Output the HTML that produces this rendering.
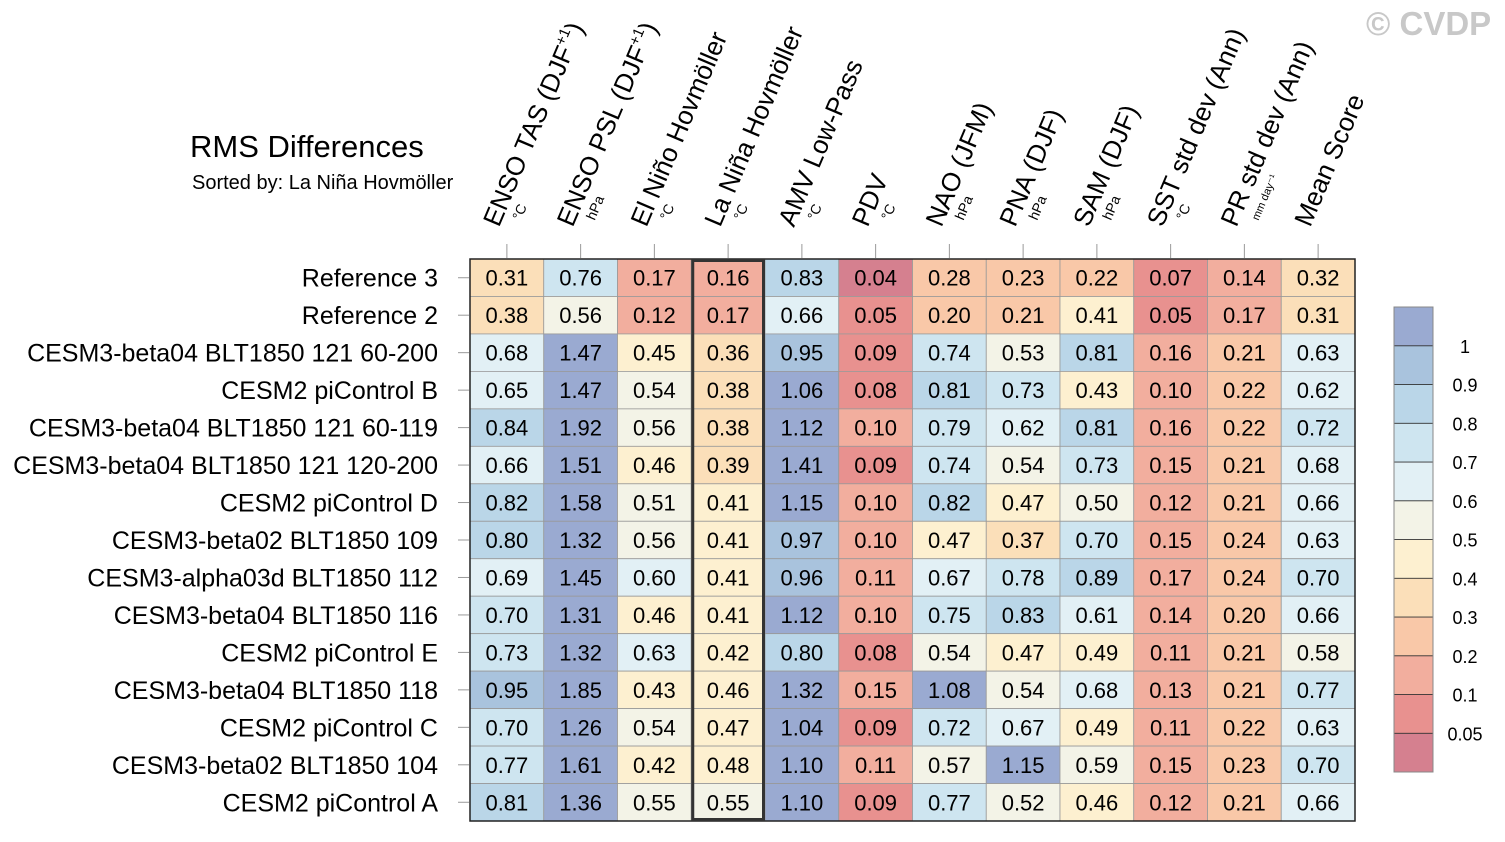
<!DOCTYPE html>
<html><head><meta charset="utf-8"><style>
body{margin:0;background:#fff;}
svg{display:block;font-family:"Liberation Sans",Arial,sans-serif;}
</style></head><body>
<svg id="chart" width="1505" height="842" xmlns="http://www.w3.org/2000/svg">
<text x="1366" y="35" font-size="33" font-weight="bold" fill="#c8c8c8">© CVDP</text>
<text x="190" y="157" font-size="31" fill="#000">RMS Differences</text>
<text x="192" y="189" font-size="20" fill="#000">Sorted by: La Niña Hovmöller</text>
</svg>
<script>
const columns=["ENSO TAS (DJF+1)","ENSO PSL (DJF+1)","El Niño Hovmöller","La Niña Hovmöller","AMV Low-Pass","PDV","NAO (JFM)","PNA (DJF)","SAM (DJF)","SST std dev (Ann)","PR std dev (Ann)","Mean Score"];
const units=["°C","hPa","°C","°C","°C","°C","hPa","hPa","hPa","°C","mm day⁻¹",""];
const rows=["Reference 3","Reference 2","CESM3-beta04 BLT1850 121 60-200","CESM2 piControl B","CESM3-beta04 BLT1850 121 60-119","CESM3-beta04 BLT1850 121 120-200","CESM2 piControl D","CESM3-beta02 BLT1850 109","CESM3-alpha03d BLT1850 112","CESM3-beta04 BLT1850 116","CESM2 piControl E","CESM3-beta04 BLT1850 118","CESM2 piControl C","CESM3-beta02 BLT1850 104","CESM2 piControl A"];
const values=[
[0.31,0.76,0.17,0.16,0.83,0.04,0.28,0.23,0.22,0.07,0.14,0.32],
[0.38,0.56,0.12,0.17,0.66,0.05,0.20,0.21,0.41,0.05,0.17,0.31],
[0.68,1.47,0.45,0.36,0.95,0.09,0.74,0.53,0.81,0.16,0.21,0.63],
[0.65,1.47,0.54,0.38,1.06,0.08,0.81,0.73,0.43,0.10,0.22,0.62],
[0.84,1.92,0.56,0.38,1.12,0.10,0.79,0.62,0.81,0.16,0.22,0.72],
[0.66,1.51,0.46,0.39,1.41,0.09,0.74,0.54,0.73,0.15,0.21,0.68],
[0.82,1.58,0.51,0.41,1.15,0.10,0.82,0.47,0.50,0.12,0.21,0.66],
[0.80,1.32,0.56,0.41,0.97,0.10,0.47,0.37,0.70,0.15,0.24,0.63],
[0.69,1.45,0.60,0.41,0.96,0.11,0.67,0.78,0.89,0.17,0.24,0.70],
[0.70,1.31,0.46,0.41,1.12,0.10,0.75,0.83,0.61,0.14,0.20,0.66],
[0.73,1.32,0.63,0.42,0.80,0.08,0.54,0.47,0.49,0.11,0.21,0.58],
[0.95,1.85,0.43,0.46,1.32,0.15,1.08,0.54,0.68,0.13,0.21,0.77],
[0.70,1.26,0.54,0.47,1.04,0.09,0.72,0.67,0.49,0.11,0.22,0.63],
[0.77,1.61,0.42,0.48,1.10,0.11,0.57,1.15,0.59,0.15,0.23,0.70],
[0.81,1.36,0.55,0.55,1.10,0.09,0.77,0.52,0.46,0.12,0.21,0.66]];
const levels=[0.05,0.1,0.2,0.3,0.4,0.5,0.6,0.7,0.8,0.9,1];
const levelLabels=["0.05","0.1","0.2","0.3","0.4","0.5","0.6","0.7","0.8","0.9","1"];
const colors=["#d5808f","#e8918f","#f2ae9e","#f9c8a8","#fbdfb9","#fdf0d0","#f3f3e7","#e2f0f5","#cee5f0","#bad6e8","#a9c3dd","#9aaad1"];
const highlightCol=3;

const svg=document.getElementById('chart');
const NS="http://www.w3.org/2000/svg";
const X0=470,X1=1355,Y0=259,Y1=821;
const cw=(X1-X0)/columns.length, rh=(Y1-Y0)/rows.length;
const xOf=i=>X0+i*cw, yOf=j=>Y0+j*rh;
function colorOf(v){let k=0;while(k<levels.length&&v>=levels[k])k++;return colors[k];}
function mk(tag,attrs){const e=document.createElementNS(NS,tag);for(const k in attrs)e.setAttribute(k,attrs[k]);svg.appendChild(e);return e;}

rows.forEach((r,j)=>{
  values[j].forEach((v,i)=>{
    const c=mk('rect',{x:xOf(i),y:yOf(j),width:cw,height:rh,fill:colorOf(v),stroke:'#999','stroke-width':0.8});
    
    
    const t=mk('text',{x:xOf(i)+cw/2,y:yOf(j)+rh/2+8,'font-size':22,'text-anchor':'middle',fill:'#000'});
    t.textContent=v.toFixed(2);
    
    
  });
  const tk=mk('line',{x1:458,x2:469,y1:yOf(j)+rh/2,y2:yOf(j)+rh/2,stroke:'#999','stroke-width':1});
  
  
  const l=mk('text',{x:438,y:yOf(j)+rh/2+9,'font-size':25,'text-anchor':'end',fill:'#000'});
  l.textContent=r;
  
  
});
const fr=mk('rect',{x:X0,y:Y0,width:X1-X0,height:Y1-Y0,fill:'none',stroke:'#222','stroke-width':1.5});


const hl=mk('rect',{x:xOf(highlightCol)+1.5,y:Y0+1.5,width:cw-3,height:Y1-Y0-3,fill:'none',stroke:'#333','stroke-width':3});



columns.forEach((c,i)=>{
  const cx=xOf(i)+cw/2;
  const tk=mk('line',{x1:cx,x2:cx,y1:244,y2:258,stroke:'#999','stroke-width':1});
  
  
  const ax=cx-8, ay=228;
  const t=mk('text',{x:ax,y:ay,'font-size':26,fill:'#000',transform:`rotate(-67 ${ax} ${ay})`});
  
  
  const m=c.match(/^(.*)\(DJF\+1\)$/);
  if(m){t.textContent=m[1]+'(DJF';const s=document.createElementNS(NS,'tspan');s.setAttribute('font-size',15);s.setAttribute('dy',-11);s.textContent='+1';t.appendChild(s);const s2=document.createElementNS(NS,'tspan');s2.setAttribute('dy',11);s2.textContent=')';t.appendChild(s2);}
  else t.textContent=c;
  if(units[i]){
    const ux=cx+14, uy=221;
    const u=mk('text',{x:ux,y:uy,'font-size':units[i].length>4?11:14,fill:'#000',transform:`rotate(-67 ${ux} ${uy})`});
    u.textContent=units[i];
    
    
  }
});

const CX=1394,CW=39,CY0=307,CY1=772;
const bh=(CY1-CY0)/colors.length;
colors.forEach((col,k)=>{
  const r=mk('rect',{x:CX,y:CY1-(k+1)*bh,width:CW,height:bh,fill:col,stroke:'#333','stroke-width':0.8});
  
  
});
const cf=mk('rect',{x:CX,y:CY0,width:CW,height:CY1-CY0,fill:'none',stroke:'#888','stroke-width':1});


levelLabels.forEach((lab,k)=>{
  const t=mk('text',{x:1465,y:CY1-(k+1)*bh+7,'font-size':18,'text-anchor':'middle',fill:'#000'});
  t.textContent=lab;
  
  
});
</script>
</body></html>
